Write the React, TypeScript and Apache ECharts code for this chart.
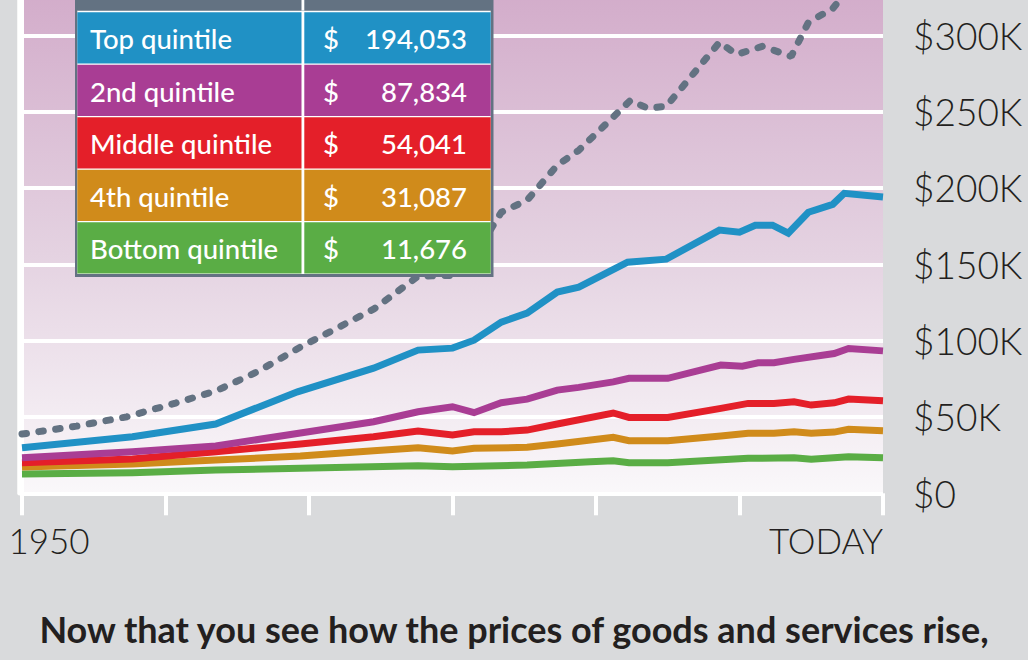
import React, { useEffect, useRef } from "react";
import * as echarts from "echarts";

// x positions are in axis units: 0 = 1950, 60 = TODAY (ticks every 10 units)
const xTickLabels = ["1950", "", "", "", "", "", "TODAY"];
const yTicks = [0, 50000, 100000, 150000, 200000, 250000, 300000];

const topX = [0, 7.7, 13.5, 19.2, 24.5, 27.6, 30.0, 31.5, 33.4, 35.2, 37.3, 38.8, 42.2, 44.9, 48.6, 50.0, 51.1, 52.3, 53.4, 54.8, 56.5, 57.3, 60];
const topV = [29800, 37000, 45400, 66500, 82000, 93800, 95100, 100300, 112100, 118000, 131800, 135000, 151400, 153400, 172400, 171000, 175600, 175600, 170400, 184100, 189300, 196500, 194053];

const secondX = [0, 7.7, 13.5, 19.4, 24.5, 27.6, 30.0, 31.5, 33.4, 35.2, 37.3, 38.8, 41.2, 42.3, 45.0, 48.7, 50.2, 51.3, 52.4, 53.8, 56.6, 57.6, 60];
const secondV = [23300, 27200, 31000, 39500, 46900, 53400, 56700, 52800, 59300, 61700, 67600, 69400, 73000, 75300, 75300, 84000, 83300, 85500, 85500, 87700, 91600, 94900, 93300];

const middleX = [0, 7.7, 13.5, 19.4, 24.5, 27.6, 30.0, 31.5, 33.4, 35.2, 37.3, 41.2, 42.3, 45.0, 48.7, 50.6, 52.4, 53.8, 55.0, 56.6, 57.6, 60];
const middleV = [20000, 22400, 27200, 32300, 37000, 40800, 38200, 40300, 40300, 41400, 45400, 52600, 49700, 49700, 55600, 58900, 58900, 60000, 57800, 59300, 61700, 60600];

const fourthX = [0, 7.7, 13.5, 19.4, 24.5, 27.6, 30.0, 31.5, 35.2, 37.3, 41.2, 42.3, 45.0, 48.7, 50.6, 52.4, 53.8, 55.0, 56.6, 57.6, 60];
const fourthV = [17200, 19200, 21800, 24400, 27900, 29800, 27700, 29500, 30100, 32300, 36700, 34400, 34400, 37500, 39300, 39300, 40300, 39300, 40100, 41900, 41000];

const bottomX = [0, 7.7, 13.5, 19.4, 27.6, 30.0, 35.2, 39.6, 41.2, 42.3, 45.0, 50.6, 53.8, 55.0, 57.6, 60];
const bottomV = [12600, 13500, 15200, 16400, 18100, 17400, 18500, 20700, 21300, 20000, 20000, 22900, 23300, 22300, 24000, 23300];

const top5X = [0, 3.8, 7.3, 10.7, 13.5, 16.4, 19.4, 24.5, 27.6, 30.0, 31.5, 33.4, 35.2, 37.3, 38.8, 42.4, 43.6, 44.9, 48.6, 49.8, 51.6, 53.6, 54.8, 56.5, 57.4, 60];
const top5V = [38800, 44000, 50100, 59100, 67000, 79600, 95800, 120600, 142200, 142800, 155200, 184100, 192000, 214900, 224700, 257400, 252200, 253500, 295400, 287500, 292800, 286200, 308500, 317600, 328100, 332000];

const tableLabels = ["Top quintile", "2nd quintile", "Middle quintile", "4th quintile", "Bottom quintile"];
const tableValues = ["194,053", "87,834", "54,041", "31,087", "11,676"];
const quintileColors = ["#2091c5", "#a93d94", "#e41f29", "#d08b1b", "#5aad45"];
const top5Color = "#637282";
const caption = "Now that you see how the prices of goods and services rise,";

const pair = (xs: number[], vs: number[]) => xs.map((x, i) => [x, vs[i]]);

// the chart canvas starts above the visible page so that the plot runs off the top edge
const OFF = 41.4;

export default function App() {
  const ref = useRef<HTMLDivElement>(null);
  useEffect(() => {
    if (!ref.current) return;
    const chart = echarts.init(ref.current, null, { renderer: "svg" });
    const quintiles = [
      [topX, topV],
      [secondX, secondV],
      [middleX, middleV],
      [fourthX, fourthV],
      [bottomX, bottomV],
    ];
    const solidSeries = quintiles
      .map((q, i) => ({
        type: "line",
        name: tableLabels[i],
        data: pair(q[0], q[1]),
        showSymbol: false,
        symbol: "none",
        z: 10 - i,
        lineStyle: { width: 7, color: quintileColors[i], cap: "butt", join: "miter" },
      }))
      .reverse();

    const rowTop = 11.8 + OFF;
    const rowPitch = 52.5;
    const rowH = 51.2;
    const Z = 100;
    const tableEls: any[] = [
      { type: "rect", z: Z, shape: { x: 75, y: 0, width: 418.5, height: 276.5 + OFF }, style: { fill: top5Color } },
      { type: "rect", z: Z, shape: { x: 77.3, y: 10 + OFF, width: 413.4, height: 263.5 }, style: { fill: "#ffffff" } },
      { type: "rect", z: Z, shape: { x: 77.3, y: 0, width: 224.2, height: 10 + OFF }, style: { fill: top5Color } },
      { type: "rect", z: Z, shape: { x: 304.3, y: 0, width: 186.4, height: 10 + OFF }, style: { fill: top5Color } },
      { type: "rect", z: Z, shape: { x: 301.5, y: 0, width: 2.8, height: 10 + OFF }, style: { fill: "#ffffff" } },
    ];
    const txt = (text: string, x: number, y: number, align: string) => ({
      type: "text",
      z: Z + 1,
      style: { text, x, y, fill: "#ffffff", fontSize: 27.5, fontFamily: "Lato", fontWeight: 500, textAlign: align, textVerticalAlign: "middle" },
    });
    tableLabels.forEach((lab, i) => {
      const y = rowTop + i * rowPitch;
      const cy = y + rowH / 2 + 1;
      tableEls.push(
        { type: "rect", z: Z, shape: { x: 77.3, y, width: 224.2, height: rowH }, style: { fill: quintileColors[i] } },
        { type: "rect", z: Z, shape: { x: 304.3, y, width: 186.4, height: rowH }, style: { fill: quintileColors[i] } },
        txt(lab, 90, cy, "left"),
        txt("$", 323, cy, "left"),
        txt(tableValues[i], 467, cy, "right")
      );
    });

    chart.setOption({
      animation: false,
      backgroundColor: "#d9dadc",
      title: {
        text: caption,
        left: "center",
        top: 606 + OFF,
        textStyle: { fontSize: 36, fontWeight: "bold", fontFamily: "Lato", color: "#231f20" },
      },
      grid: {
        left: 22,
        right: 145,
        top: 0,
        bottom: 166.7,
        show: true,
        borderWidth: 0,
        backgroundColor: {
          type: "linear",
          x: 0,
          y: 0,
          x2: 0,
          y2: 1,
          colorStops: [
            { offset: 0, color: "#d0a8c7" },
            { offset: 0.1, color: "#d4afcc" },
            { offset: 0.55, color: "#e4d2e1" },
            { offset: 1, color: "#faf8fa" },
          ],
        },
      },
      xAxis: {
        type: "value",
        min: 0,
        max: 60,
        interval: 10,
        axisLine: { show: false },
        axisTick: { show: true, length: 22, lineStyle: { color: "#ffffff", width: 4 } },
        splitLine: { show: false },
        axisLabel: {
          margin: 29,
          color: "#231f20",
          fontSize: 35,
          fontFamily: "Lato",
          fontWeight: 300,
          showMinLabel: true,
          showMaxLabel: true,
          alignMaxLabel: "right",
          formatter: (v: number) => {
            const s = xTickLabels[Math.round(v / 10)] || "";
            if (v === 0) return "{first|" + s + "}";
            return s;
          },
          rich: {
            first: { fontSize: 35, fontFamily: "Lato", fontWeight: 300, color: "#231f20", padding: [0, 0, 0, 54] },
          },
        },
      },
      yAxis: [
        {
          type: "value",
          position: "right",
          min: 0,
          max: 350000,
          interval: 50000,
          axisLine: { show: true, lineStyle: { color: "#ffffff", width: 4 } },
          axisTick: { show: true, length: 22, lineStyle: { color: "#ffffff", width: 4 } },
          splitLine: { show: true, lineStyle: { color: "#ffffff", width: 4 } },
          axisLabel: {
            margin: 30,
            color: "#231f20",
            fontSize: 37,
            fontFamily: "Lato",
            fontWeight: 300,
            formatter: (v: number) => (yTicks.indexOf(v) < 0 ? "" : v === 0 ? "$0" : "$" + v / 1000 + "K"),
          },
        },
        {
          type: "value",
          position: "left",
          offset: 3,
          min: 0,
          max: 350000,
          interval: 50000,
          axisLine: { show: true, lineStyle: { color: "#ffffff", width: 4.5 } },
          axisTick: { show: false },
          splitLine: { show: false },
          axisLabel: { show: false },
        },
      ],
      series: [
        {
          type: "line",
          name: "Top 5 percent",
          data: pair(top5X, top5V),
          showSymbol: false,
          symbol: "none",
          z: 4,
          lineStyle: { width: 7, color: top5Color, type: [4.5, 12.5], cap: "round" },
        },
        ...solidSeries,
      ],
      graphic: tableEls,
    });
    return () => chart.dispose();
  }, []);
  return <div ref={ref} style={{ position: "fixed", left: 0, top: -OFF, width: 1028, height: 660 + OFF }} />;
}
